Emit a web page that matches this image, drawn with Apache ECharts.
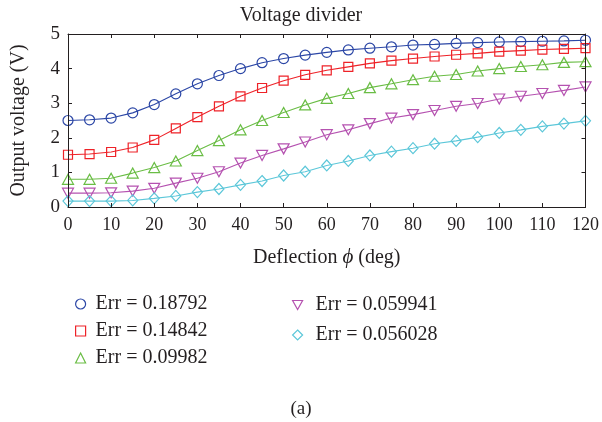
<!DOCTYPE html>
<html>
<head>
<meta charset="utf-8">
<style>
  html, body { margin: 0; padding: 0; background: #fff; }
  #main { width: 602px; height: 422px; }
</style>
<script src="https://cdn.jsdelivr.net/npm/echarts@6/dist/echarts.min.js"></script>
</head>
<body>
<div id="main"></div>
<script>
// deflection angles (deg)
const angles = [0, 5, 10, 15, 20, 25, 30, 35, 40, 45, 50, 55, 60, 65, 70, 75, 80, 85, 90, 95, 100, 105, 110, 115, 120]

// output voltage per model (V)
const err18792 = [2.50, 2.52, 2.57, 2.72, 2.96, 3.27, 3.56, 3.80, 4.00, 4.17, 4.29, 4.39, 4.47, 4.54, 4.59, 4.63, 4.68, 4.70, 4.73, 4.75, 4.77, 4.78, 4.79, 4.80, 4.82]
const err14842 = [1.51, 1.53, 1.59, 1.72, 1.94, 2.27, 2.60, 2.91, 3.20, 3.44, 3.65, 3.82, 3.95, 4.05, 4.15, 4.23, 4.29, 4.35, 4.40, 4.44, 4.49, 4.52, 4.55, 4.57, 4.59]
const err09982 = [0.80, 0.80, 0.83, 0.98, 1.14, 1.33, 1.63, 1.92, 2.23, 2.50, 2.73, 2.95, 3.14, 3.28, 3.45, 3.56, 3.68, 3.78, 3.83, 3.93, 4.00, 4.06, 4.11, 4.18, 4.20]
const err059941 = [0.40, 0.40, 0.41, 0.46, 0.54, 0.69, 0.83, 1.02, 1.27, 1.49, 1.68, 1.88, 2.09, 2.23, 2.41, 2.57, 2.67, 2.79, 2.91, 2.99, 3.12, 3.20, 3.28, 3.37, 3.47]
const err056028 = [0.17, 0.17, 0.17, 0.19, 0.25, 0.32, 0.43, 0.52, 0.64, 0.75, 0.91, 1.02, 1.20, 1.33, 1.49, 1.60, 1.70, 1.83, 1.91, 2.02, 2.14, 2.23, 2.33, 2.41, 2.49]

const names = ['Err = 0.18792', 'Err = 0.14842', 'Err = 0.09982', 'Err = 0.059941', 'Err = 0.056028']
const colors = ['#2c47a6', '#ee2228', '#6abd45', '#b552b0', '#5cc7d9']

const xTicks = [0, 120, 10]
const yTicks = [0, 5, 1]

const font = '"Liberation Serif", "DejaVu Serif", serif'
const ink = '#231f20'
const downTriangle = 'path://M0,0L10,0L5,9Z'
const symbols = ['circle', 'rect', 'triangle', downTriangle, 'diamond']
const sizes = [[10, 10], [9, 9], [11, 10], [11, 10], [10, 11]]

const allData = [err18792, err14842, err09982, err059941, err056028]

const hollow = (c) => ({ color: 'rgba(255,255,255,0)', borderColor: c, borderWidth: 1.2 })

const series = allData.map((vals, i) => ({
  name: names[i],
  type: 'line',
  data: angles.map((a, j) => [a, vals[j]]),
  symbol: symbols[i],
  symbolSize: sizes[i],
  showAllSymbol: true,
  lineStyle: { color: colors[i], width: 1.1 },
  itemStyle: hollow(colors[i]),
  emphasis: { disabled: true },
  animation: false,
  z: 3,
}))

const legendItems = names.map((n, i) => ({ name: n, icon: symbols[i], itemStyle: hollow(colors[i]) }))

const axisCommon = {
  axisLine: { show: true, onZero: false, lineStyle: { color: ink, width: 1 } },
  axisTick: { show: true, inside: true, length: 4, lineStyle: { color: ink } },
  splitLine: { show: false },
  z: 5,
}

const option = {
  animation: false,
  textStyle: { fontFamily: font, color: ink },
  title: {
    text: 'Voltage divider',
    left: 'center',
    top: 1,
    textStyle: { fontFamily: font, fontSize: 20, fontWeight: 'normal', color: ink },
  },
  grid: { left: 68, right: 15, top: 34, bottom: 215, containLabel: false },
  legend: [
    {
      data: legendItems.slice(0, 3),
      orient: 'vertical',
      left: 75,
      top: 294,
      padding: 0,
      itemWidth: 10,
      itemHeight: 10,
      itemGap: 7,
      textStyle: { fontFamily: font, fontSize: 20, color: ink, padding: [0, 0, 0, 5] },
    },
    {
      data: legendItems.slice(3),
      orient: 'vertical',
      left: 292,
      top: 295,
      padding: 0,
      itemWidth: 10,
      itemHeight: 10,
      itemGap: 10,
      textStyle: { fontFamily: font, fontSize: 20, color: ink, padding: [0, 0, 0, 8] },
    },
  ],
  xAxis: [
    {
      ...axisCommon,
      type: 'value',
      min: xTicks[0],
      max: xTicks[1],
      interval: xTicks[2],
      name: '{n|Deflection }{p|ϕ}{n| (deg)}',
      nameLocation: 'middle',
      nameGap: 40,
      nameTextStyle: {
        rich: {
          n: { fontFamily: font, fontSize: 20, color: ink },
          p: { fontFamily: font, fontSize: 21, fontStyle: 'italic', color: ink },
        },
      },
      axisLabel: { fontFamily: font, fontSize: 18, color: ink, margin: 9 },
    },
    {
      ...axisCommon,
      type: 'value',
      position: 'top',
      min: xTicks[0],
      max: xTicks[1],
      interval: xTicks[2],
      axisLabel: { show: false },
    },
  ],
  yAxis: [
    {
      ...axisCommon,
      type: 'value',
      min: yTicks[0],
      max: yTicks[1],
      interval: yTicks[2],
      name: 'Output voltage (V)',
      nameLocation: 'middle',
      nameGap: 39,
      nameTextStyle: { fontFamily: font, fontSize: 20, color: ink },
      axisLabel: { fontFamily: font, fontSize: 19, color: ink, margin: 8 },
    },
    {
      ...axisCommon,
      type: 'value',
      position: 'right',
      min: yTicks[0],
      max: yTicks[1],
      interval: yTicks[2],
      axisLabel: { show: false },
    },
  ],
  graphic: [
    {
      type: 'text',
      left: 'center',
      top: 400,
      style: { text: '(a)', font: '19px ' + font, fill: ink },
    },
  ],
  series: series,
}

const chart = echarts.init(document.getElementById('main'))
chart.setOption(option)
</script>
</body>
</html>
